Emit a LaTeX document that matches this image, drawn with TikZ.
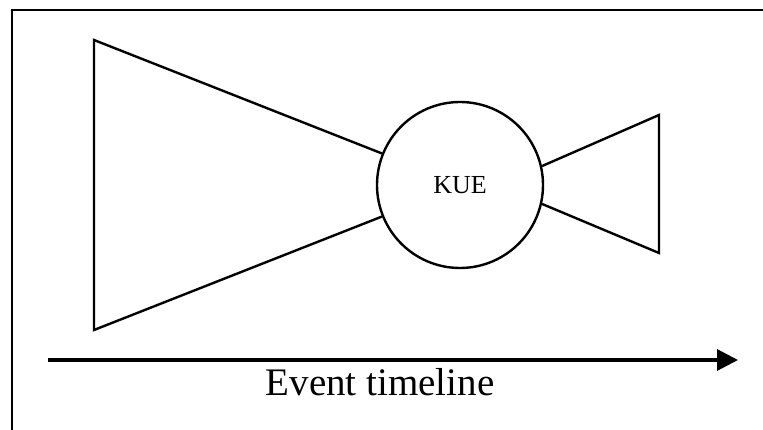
\documentclass[tikz,border=0pt]{standalone}
\usepackage{fontspec}
\setmainfont{Liberation Serif}
\usetikzlibrary{arrows.meta}
\begin{document}
\begin{tikzpicture}[x=1pt,y=-1pt,
  outline/.style={line width=2.4pt,line join=miter},
  frameline/.style={line width=2pt},
  timeline/.style={line width=3.2pt,-{Triangle[length=21pt,width=21pt]}},
  hub/.style={circle,draw,line width=2.4pt,minimum size=166pt,inner sep=0pt,
    font=\fontsize{26}{28}\selectfont}
]
\useasboundingbox (0,0) rectangle (763,430);
% partial frame (left and top edges)
\draw[frameline] (12,440) -- (12,10) -- (775,10);

% central event
\node[hub] (kue) at (460,185) {KUE};

% left and right fans
\coordinate (lt) at (94,40);
\coordinate (lb) at (94,330);
\coordinate (rt) at (659,115);
\coordinate (rb) at (659,253);
\draw[outline] (kue.158) -- (lt) -- (lb) -- (kue.202);
\draw[outline] (kue.13) -- (rt) -- (rb) -- (kue.-13);

% time axis
\coordinate (t0) at (48,360);
\coordinate (t1) at (738,360);
\draw[timeline] (t0) -- (t1);
\node[anchor=base,inner sep=0pt,font=\fontsize{39}{42}\selectfont] (lbl) at (380,395) {Event timeline};
\end{tikzpicture}
\end{document}
